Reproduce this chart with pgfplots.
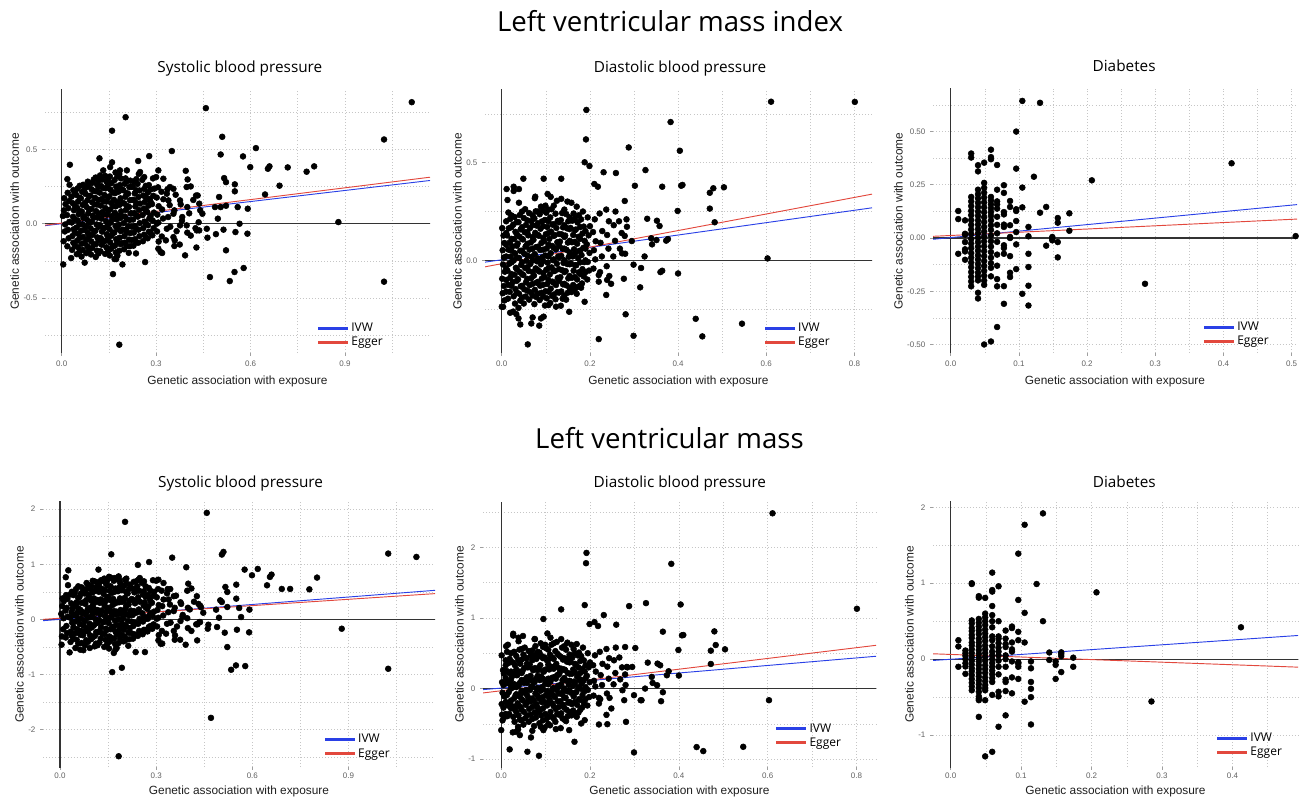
\documentclass[border=0pt]{standalone}
\usepackage{fontspec}
\setmainfont{Liberation Sans}
\newfontfamily\titlefont{Open Sans}
\usepackage{pgfplots}
\usepackage{pgfplotstable}
\pgfplotsset{compat=1.18}
\definecolor{ivwblue}{HTML}{2A40E6}
\definecolor{eggerred}{HTML}{E2483D}

\pgfplotsset{
  panel/.style={
    scale only axis,
    anchor=south west,
    clip=true,
    axis line style={draw=none},
    tick align=outside,
    xtick pos=left, ytick pos=left,
    major tick length=2.2pt,
    minor tick length=0pt,
    tick style={color=gray!75, line width=0.5pt},
    grid=both,
    major grid style={gray!45, line width=0.45pt, dash pattern=on 0.7pt off 1.6pt},
    minor grid style={gray!45, line width=0.45pt, dash pattern=on 0.7pt off 1.6pt},
    scaled ticks=false,
    /pgf/number format/assume math mode=true,
    tick label style={font=\fontsize{6}{7}\selectfont, text=black!62},
    xlabel={Genetic association with exposure},
    ylabel={Genetic association with outcome},
    ylabel shift=-3.5pt,
    label style={font=\fontsize{8.9}{10}\selectfont, text=black!88},
    title style={font=\titlefont\fontsize{11.5}{13}\selectfont, anchor=base},
    legend cell align=left,
    legend image code/.code={\draw[##1, line width=2.3pt] (0pt,0pt) -- (22.5pt,0pt);},
    legend style={draw=none, fill=none, inner sep=0pt, anchor=north west, row sep=0.2pt,
      nodes={inner sep=1.2pt, font=\titlefont\fontsize{9}{10}\selectfont}},
  },
  lowrow/.style={
    x tick label style={yshift=1.5pt},
    xlabel style={yshift=1pt},
  },
  dots/.style={only marks, mark=*, mark size=2.2pt, mark options={draw=none, fill=black}, forget plot},
  zero/.style={black!80, line width=0.8pt, forget plot},
  ivw/.style={ivwblue, line width=0.7pt},
  egger/.style={eggerred, line width=0.7pt},
  xone/.style={x tick label style={/pgf/number format/fixed, /pgf/number format/fixed zerofill, /pgf/number format/precision=1}},
  yone/.style={y tick label style={/pgf/number format/fixed, /pgf/number format/fixed zerofill, /pgf/number format/precision=1}},
  ytwo/.style={y tick label style={/pgf/number format/fixed, /pgf/number format/fixed zerofill, /pgf/number format/precision=2}},
}

% systolic blood pressure: x = exposure, a = LVMI, b = LVM
\pgfplotstableread{
x a b
0.006 -0.118 -0.31
0.010 -0.052 -0.18
0.004 0.052 0.10
0.012 0.132 0.33
0.008 0.172 0.38
0.011 -0.005 0.02
0.007 0.090 0.24
0.018 -0.152 -0.33
0.022 -0.098 -0.25
0.020 -0.041 -0.12
0.024 0.012 0.05
0.017 0.058 0.16
0.021 0.104 0.21
0.023 0.152 0.37
0.019 0.208 0.44
0.025 0.262 0.62
0.033 -0.176 -0.41
0.037 -0.128 -0.30
0.034 -0.083 -0.22
0.038 -0.037 -0.06
0.032 0.008 0.03
0.036 0.047 0.13
0.039 0.091 0.19
0.035 0.138 0.29
0.031 0.182 0.45
0.037 0.226 0.50
0.048 -0.205 -0.52
0.052 -0.158 -0.37
0.049 -0.115 -0.25
0.053 -0.068 -0.18
0.047 -0.026 -0.04
0.051 0.021 0.07
0.054 0.063 0.12
0.049 0.107 0.27
0.052 0.149 0.31
0.046 0.194 0.48
0.050 0.236 0.55
0.063 -0.221 -0.55
0.067 -0.176 -0.43
0.064 -0.134 -0.28
0.068 -0.089 -0.21
0.062 -0.047 -0.09
0.066 -0.004 0.01
0.069 0.039 0.11
0.064 0.082 0.17
0.067 0.127 0.30
0.061 0.171 0.41
0.065 0.214 0.47
0.068 0.262 0.58
0.078 -0.198 -0.47
0.082 -0.152 -0.38
0.079 -0.108 -0.22
0.083 -0.062 -0.16
0.077 -0.019 -0.03
0.081 0.026 0.08
0.084 0.068 0.14
0.079 0.113 0.28
0.082 0.158 0.35
0.076 0.201 0.47
0.080 0.247 0.54
0.083 0.283 0.66
0.093 -0.207 -0.52
0.097 -0.163 -0.36
0.094 -0.119 -0.29
0.098 -0.074 -0.15
0.092 -0.031 -0.08
0.096 0.013 0.04
0.099 0.055 0.15
0.094 0.099 0.21
0.097 0.144 0.34
0.091 0.189 0.42
0.095 0.232 0.55
0.098 0.276 0.61
0.102 0.298 0.70
0.108 -0.224 -0.49
0.112 -0.181 -0.44
0.109 -0.137 -0.30
0.113 -0.092 -0.23
0.107 -0.048 -0.10
0.111 -0.005 0.00
0.114 0.041 0.12
0.109 0.085 0.18
0.112 0.129 0.32
0.106 0.174 0.38
0.110 0.218 0.52
0.113 0.262 0.58
0.108 0.311 0.69
0.123 -0.185 -0.42
0.127 -0.141 -0.35
0.124 -0.097 -0.21
0.128 -0.053 -0.14
0.122 -0.009 -0.01
0.126 0.034 0.09
0.129 0.078 0.16
0.124 0.122 0.30
0.127 0.166 0.36
0.121 0.209 0.50
0.125 0.254 0.57
0.128 0.297 0.71
0.138 -0.203 -0.50
0.142 -0.159 -0.37
0.139 -0.115 -0.27
0.143 -0.071 -0.17
0.137 -0.027 -0.05
0.141 0.017 0.05
0.144 0.061 0.13
0.139 0.105 0.25
0.142 0.149 0.33
0.136 0.193 0.46
0.140 0.238 0.53
0.143 0.281 0.65
0.138 0.322 0.74
0.153 -0.214 -0.53
0.157 -0.169 -0.40
0.154 -0.125 -0.31
0.158 -0.081 -0.18
0.152 -0.037 -0.07
0.156 0.008 0.03
0.159 0.052 0.14
0.154 0.096 0.20
0.157 0.140 0.35
0.151 0.184 0.41
0.155 0.229 0.52
0.158 0.273 0.60
0.153 0.318 0.77
0.168 -0.238 -0.61
0.172 -0.193 -0.45
0.169 -0.148 -0.35
0.173 -0.104 -0.22
0.167 -0.060 -0.13
0.171 -0.016 -0.02
0.174 0.029 0.09
0.169 0.073 0.15
0.172 0.117 0.29
0.166 0.161 0.37
0.170 0.206 0.50
0.173 0.250 0.56
0.168 0.294 0.70
0.171 0.345 0.75
0.183 -0.182 -0.43
0.187 -0.138 -0.34
0.184 -0.094 -0.20
0.188 -0.050 -0.13
0.182 -0.006 0.00
0.186 0.038 0.10
0.189 0.083 0.17
0.184 0.127 0.31
0.187 0.171 0.38
0.181 0.216 0.51
0.185 0.260 0.58
0.188 0.305 0.66
0.183 0.335 0.78
0.198 -0.172 -0.40
0.202 -0.128 -0.31
0.199 -0.084 -0.19
0.203 -0.040 -0.11
0.197 0.004 0.02
0.201 0.048 0.12
0.204 0.092 0.19
0.199 0.136 0.33
0.202 0.181 0.39
0.196 0.225 0.53
0.200 0.269 0.61
0.203 0.305 0.72
0.213 -0.196 -0.48
0.217 -0.151 -0.36
0.214 -0.107 -0.24
0.218 -0.063 -0.16
0.212 -0.019 -0.03
0.216 0.025 0.07
0.219 0.069 0.13
0.214 0.113 0.27
0.217 0.158 0.34
0.211 0.202 0.47
0.215 0.246 0.55
0.218 0.290 0.63
0.228 -0.148 -0.35
0.232 -0.104 -0.27
0.229 -0.060 -0.12
0.233 -0.016 -0.06
0.227 0.028 0.08
0.231 0.072 0.15
0.234 0.116 0.29
0.229 0.160 0.35
0.232 0.204 0.49
0.226 0.248 0.56
0.230 0.283 0.68
0.243 -0.128 -0.30
0.247 -0.084 -0.21
0.244 -0.040 -0.08
0.248 0.004 0.01
0.242 0.048 0.13
0.246 0.092 0.18
0.249 0.136 0.32
0.244 0.180 0.40
0.247 0.224 0.52
0.241 0.268 0.60
0.245 0.335 0.72
0.258 -0.118 -0.27
0.262 -0.074 -0.19
0.259 -0.030 -0.04
0.263 0.014 0.05
0.257 0.058 0.11
0.261 0.102 0.25
0.264 0.146 0.31
0.259 0.190 0.45
0.262 0.234 0.51
0.256 0.295 0.66
0.273 -0.098 -0.22
0.277 -0.054 -0.14
0.274 -0.010 0.01
0.278 0.034 0.06
0.272 0.078 0.19
0.276 0.122 0.24
0.279 0.166 0.39
0.274 0.210 0.44
0.277 0.260 0.57
0.288 -0.078 -0.17
0.292 -0.030 -0.09
0.289 0.022 0.06
0.293 0.075 0.14
0.287 0.132 0.30
0.291 0.188 0.43
0.294 0.236 0.50
0.290 0.305 0.71
0.303 -0.052 -0.13
0.307 0.008 0.03
0.304 0.061 0.17
0.308 0.118 0.26
0.302 0.176 0.40
0.306 0.245 0.55
0.318 -0.086 -0.21
0.322 0.035 0.07
0.319 0.096 0.24
0.323 0.165 0.36
0.317 0.215 0.52
0.338 0.045 0.13
0.343 0.125 0.27
0.336 0.232 0.55
0.345 -0.020 -0.06
0.358 0.090 0.21
0.362 0.195 0.43
0.365 -0.050 -0.13
0.378 0.130 0.28
0.382 0.020 0.05
0.375 -0.140 -0.37
0.405 0.070 0.18
0.418 0.160 0.32
0.425 -0.030 -0.09
0.440 0.090 0.22
0.432 0.190 0.28
0.410 -0.080 -0.21
0.072 -0.130 -0.29
0.073 -0.040 -0.11
0.071 0.050 0.13
0.074 0.140 0.31
0.072 0.230 0.50
0.102 -0.140 -0.33
0.103 -0.050 -0.12
0.101 0.040 0.08
0.104 0.130 0.27
0.102 0.220 0.49
0.132 -0.120 -0.26
0.133 -0.030 -0.05
0.131 0.060 0.15
0.134 0.150 0.34
0.132 0.240 0.55
0.162 -0.150 -0.34
0.163 -0.060 -0.14
0.161 0.030 0.06
0.164 0.120 0.26
0.162 0.210 0.48
0.192 -0.130 -0.28
0.193 -0.040 -0.07
0.191 0.050 0.11
0.194 0.140 0.32
0.192 0.230 0.53
0.222 -0.110 -0.25
0.223 -0.020 -0.04
0.221 0.070 0.16
0.224 0.160 0.37
0.222 0.250 0.57
0.042 -0.150 -0.35
0.042 -0.060 -0.14
0.042 0.030 0.08
0.042 0.120 0.24
0.042 0.205 0.44
0.057 -0.185 -0.44
0.057 -0.095 -0.20
0.057 -0.005 0.00
0.057 0.085 0.20
0.057 0.175 0.39
0.057 0.255 0.60
0.087 -0.175 -0.41
0.087 -0.085 -0.22
0.087 0.005 0.03
0.087 0.095 0.19
0.087 0.185 0.45
0.087 0.265 0.63
0.117 -0.200 -0.47
0.117 -0.110 -0.24
0.117 -0.020 -0.06
0.117 0.070 0.17
0.117 0.160 0.35
0.117 0.245 0.59
0.117 0.290 0.67
0.147 -0.185 -0.45
0.147 -0.095 -0.19
0.147 -0.005 -0.02
0.147 0.085 0.21
0.147 0.175 0.40
0.147 0.260 0.62
0.147 0.300 0.70
0.177 -0.215 -0.52
0.177 -0.125 -0.27
0.177 -0.035 -0.10
0.177 0.055 0.14
0.177 0.145 0.31
0.177 0.230 0.54
0.177 0.320 0.73
0.207 -0.150 -0.37
0.207 -0.060 -0.13
0.207 0.030 0.09
0.207 0.120 0.25
0.207 0.205 0.49
0.207 0.285 0.65
0.237 -0.125 -0.29
0.237 -0.035 -0.07
0.237 0.055 0.12
0.237 0.140 0.33
0.237 0.225 0.51
0.237 0.300 0.69
0.267 -0.090 -0.20
0.267 0.000 0.01
0.267 0.090 0.22
0.267 0.180 0.41
0.267 0.255 0.60
0.282 -0.060 -0.12
0.282 0.050 0.11
0.282 0.150 0.34
0.282 0.230 0.52
0.400 0.298 0.648
0.410 0.251 0.56
0.397 0.247 0.52
0.427 0.190 0.42
0.437 0.135 0.25
0.447 0.067 0.12
0.437 -0.045 -0.05
0.429 -0.045 -0.09
0.397 -0.011 0.02
0.307 -0.168 -0.38
0.319 -0.197 -0.44
0.359 -0.112 -0.29
0.355 -0.090 -0.21
0.339 0.157 0.36
0.334 0.202 0.47
0.344 0.247 0.55
0.323 0.303 0.66
0.307 0.359 0.72
0.300 0.314 0.70
0.262 0.314 0.69
0.249 0.348 0.75
0.207 0.359 0.74
0.185 0.359 0.72
0.122 0.325 0.65
0.132 0.359 0.70
0.154 0.381 0.77
0.355 0.235 0.42
0.376 0.157 0.31
0.399 0.112 0.21
0.383 0.045 0.08
0.355 0.067 0.15
0.376 -0.011 -0.03
0.302 0.000 0.01
0.334 -0.034 -0.08
0.331 -0.112 -0.26
0.458 0.778 1.933
1.112 0.818 1.133
0.203 0.717 1.770
0.160 0.626 1.180
0.510 0.585 1.224
1.024 0.567 1.194
0.617 0.509 0.915
0.350 0.489 1.120
0.505 0.466 1.176
0.576 0.453 0.903
0.278 0.455 1.040
0.120 0.440 0.903
0.026 0.397 0.890
0.243 0.422 0.988
0.160 0.413 0.750
0.599 0.381 0.800
0.660 0.386 0.812
0.655 0.370 0.770
0.718 0.379 0.552
0.778 0.350 0.545
0.802 0.386 0.758
0.692 0.256 0.552
0.646 0.197 0.618
0.394 0.356 0.945
0.516 0.307 0.588
0.522 0.280 0.497
0.550 0.265 0.630
0.550 0.218 0.376
0.500 0.180 0.345
0.505 0.112 0.315
0.522 0.121 0.224
0.559 0.112 0.206
0.591 0.101 0.176
0.487 0.112 0.176
0.496 0.034 0.030
0.879 0.011 -0.170
0.565 0.000 0.042
0.461 -0.034 -0.170
0.514 -0.040 -0.242
0.552 -0.056 -0.188
0.590 -0.067 -0.236
0.463 -0.094 -0.097
0.490 -0.070 -0.139
0.522 -0.179 -0.503
0.392 -0.213 -0.460
0.265 -0.258 -0.594
0.471 -0.359 -1.788
0.578 -0.298 -0.848
0.549 -0.325 -0.836
0.534 -0.386 -0.915
1.024 -0.390 -0.897
0.163 -0.339 -0.958
0.193 -0.274 -0.879
0.173 -0.238 -0.550
0.073 -0.262 -0.560
0.030 -0.231 -0.600
0.005 -0.274 -0.460
0.183 -0.814 -2.485
0.236 -0.200 -0.594
0.428 -0.160 -0.382
0.358 -0.150 -0.370
0.314 -0.190 -0.442
0.308 -0.120 -0.285
0.399 -0.060 -0.158
0.435 0.010 -0.048
0.018 0.300 0.764
}\sbp

% diastolic blood pressure
\pgfplotstableread{
x a b
0.003 -0.238 -0.45
0.006 -0.205 -0.41
0.002 -0.168 -0.37
0.005 -0.131 -0.27
0.001 -0.094 -0.22
0.007 -0.058 -0.11
0.003 -0.021 -0.06
0.005 0.015 0.05
0.002 0.052 0.09
0.006 0.089 0.21
0.004 0.127 0.26
0.001 0.165 0.47
0.014 -0.196 -0.39
0.018 -0.161 -0.36
0.015 -0.125 -0.24
0.019 -0.089 -0.20
0.013 -0.053 -0.09
0.017 -0.017 -0.05
0.020 0.019 0.06
0.015 0.055 0.10
0.018 0.091 0.22
0.012 0.128 0.25
0.016 0.164 0.36
0.019 0.212 0.42
0.015 0.245 0.62
0.026 -0.262 -0.62
0.030 -0.221 -0.47
0.027 -0.184 -0.40
0.031 -0.147 -0.30
0.025 -0.111 -0.25
0.029 -0.074 -0.14
0.032 -0.038 -0.10
0.027 -0.001 0.02
0.030 0.036 0.06
0.024 0.072 0.17
0.028 0.109 0.21
0.031 0.146 0.33
0.026 0.183 0.37
0.029 0.222 0.52
0.027 0.355 0.75
0.038 -0.243 -0.58
0.042 -0.206 -0.44
0.039 -0.170 -0.38
0.043 -0.133 -0.26
0.037 -0.097 -0.21
0.041 -0.060 -0.11
0.044 -0.024 -0.07
0.039 0.013 0.04
0.042 0.049 0.08
0.036 0.086 0.19
0.040 0.122 0.24
0.043 0.159 0.35
0.038 0.196 0.40
0.041 0.232 0.55
0.039 0.295 0.67
0.050 -0.221 -0.51
0.054 -0.185 -0.42
0.051 -0.148 -0.33
0.055 -0.112 -0.23
0.049 -0.075 -0.17
0.053 -0.039 -0.06
0.056 -0.002 -0.02
0.051 0.034 0.08
0.054 0.071 0.13
0.048 0.107 0.25
0.052 0.144 0.29
0.055 0.181 0.43
0.050 0.217 0.48
0.053 0.262 0.58
0.062 -0.201 -0.47
0.066 -0.164 -0.37
0.063 -0.127 -0.29
0.067 -0.091 -0.18
0.061 -0.054 -0.13
0.065 -0.018 -0.02
0.068 0.019 0.03
0.063 0.055 0.13
0.066 0.092 0.18
0.060 0.128 0.30
0.064 0.165 0.34
0.067 0.201 0.47
0.062 0.242 0.53
0.074 -0.224 -0.53
0.078 -0.187 -0.41
0.075 -0.151 -0.34
0.079 -0.114 -0.22
0.073 -0.078 -0.17
0.077 -0.041 -0.07
0.080 -0.005 -0.01
0.075 0.032 0.09
0.078 0.068 0.14
0.072 0.105 0.26
0.076 0.141 0.29
0.079 0.178 0.42
0.074 0.214 0.47
0.077 0.251 0.60
0.075 0.318 0.70
0.086 -0.203 -0.49
0.090 -0.166 -0.38
0.087 -0.130 -0.31
0.091 -0.093 -0.19
0.085 -0.057 -0.14
0.089 -0.020 -0.03
0.092 0.016 0.02
0.087 0.053 0.12
0.090 0.089 0.17
0.084 0.126 0.29
0.088 0.162 0.33
0.091 0.199 0.46
0.086 0.236 0.51
0.089 0.275 0.64
0.098 -0.231 -0.55
0.102 -0.194 -0.43
0.099 -0.158 -0.36
0.103 -0.121 -0.24
0.097 -0.085 -0.19
0.101 -0.048 -0.09
0.104 -0.012 -0.04
0.099 0.025 0.07
0.102 0.061 0.11
0.096 0.098 0.24
0.100 0.134 0.27
0.103 0.171 0.40
0.098 0.207 0.44
0.101 0.244 0.57
0.099 0.280 0.62
0.104 0.340 0.78
0.110 -0.218 -0.52
0.114 -0.182 -0.40
0.111 -0.145 -0.33
0.115 -0.109 -0.21
0.109 -0.072 -0.16
0.113 -0.036 -0.05
0.116 0.001 0.00
0.111 0.037 0.10
0.114 0.074 0.15
0.108 0.110 0.27
0.112 0.147 0.31
0.115 0.183 0.44
0.110 0.220 0.48
0.113 0.262 0.62
0.111 0.325 0.72
0.122 -0.199 -0.47
0.126 -0.163 -0.36
0.123 -0.126 -0.29
0.127 -0.090 -0.18
0.121 -0.053 -0.12
0.125 -0.017 -0.02
0.128 0.020 0.04
0.123 0.056 0.14
0.126 0.093 0.19
0.120 0.129 0.31
0.124 0.166 0.35
0.127 0.202 0.49
0.122 0.239 0.53
0.125 0.305 0.66
0.134 -0.232 -0.56
0.138 -0.196 -0.42
0.135 -0.159 -0.35
0.139 -0.123 -0.23
0.133 -0.086 -0.18
0.137 -0.050 -0.08
0.140 -0.013 -0.03
0.135 0.023 0.06
0.138 0.060 0.12
0.132 0.096 0.23
0.136 0.133 0.28
0.139 0.169 0.41
0.134 0.206 0.45
0.137 0.242 0.58
0.135 0.315 0.70
0.146 -0.201 -0.46
0.150 -0.165 -0.39
0.147 -0.128 -0.30
0.151 -0.092 -0.20
0.145 -0.055 -0.13
0.149 -0.019 -0.04
0.152 0.018 0.05
0.147 0.054 0.11
0.150 0.091 0.22
0.144 0.127 0.26
0.148 0.164 0.38
0.151 0.200 0.43
0.146 0.237 0.55
0.149 0.301 0.65
0.158 -0.162 -0.38
0.162 -0.126 -0.31
0.159 -0.089 -0.22
0.163 -0.053 -0.11
0.157 -0.016 -0.06
0.161 0.020 0.04
0.164 0.057 0.10
0.159 0.093 0.21
0.162 0.130 0.27
0.156 0.166 0.39
0.160 0.203 0.44
0.163 0.240 0.56
0.158 0.295 0.62
0.170 -0.171 -0.40
0.174 -0.134 -0.34
0.171 -0.098 -0.23
0.175 -0.061 -0.15
0.169 -0.025 -0.05
0.173 0.012 0.02
0.176 0.048 0.12
0.171 0.085 0.17
0.174 0.121 0.30
0.168 0.158 0.34
0.172 0.194 0.47
0.175 0.231 0.51
0.170 0.275 0.63
0.182 -0.118 -0.27
0.186 -0.082 -0.20
0.183 -0.045 -0.09
0.187 -0.009 -0.04
0.181 0.027 0.07
0.185 0.064 0.11
0.188 0.100 0.24
0.183 0.137 0.28
0.186 0.173 0.40
0.180 0.210 0.46
0.184 0.250 0.58
0.194 -0.098 -0.24
0.198 -0.052 -0.12
0.195 -0.008 -0.02
0.199 0.038 0.09
0.193 0.082 0.18
0.197 0.128 0.30
0.200 0.175 0.37
0.195 0.220 0.50
0.208 -0.042 -0.10
0.212 0.005 0.03
0.209 0.052 0.11
0.213 0.098 0.24
0.207 0.145 0.33
0.211 0.210 0.47
0.223 -0.060 -0.15
0.227 0.020 0.05
0.224 0.090 0.19
0.228 0.150 0.35
0.222 0.240 0.52
0.238 -0.030 -0.07
0.242 0.060 0.14
0.239 0.130 0.31
0.243 0.200 0.43
0.237 0.260 0.56
0.253 0.020 0.06
0.257 0.100 0.22
0.254 0.180 0.40
0.258 0.250 0.58
0.268 0.060 0.13
0.272 0.140 0.30
0.266 0.200 0.44
0.010 -0.160 -0.36
0.010 -0.100 -0.19
0.010 -0.040 -0.10
0.010 0.020 0.07
0.010 0.080 0.15
0.010 0.140 0.33
0.010 0.200 0.40
0.034 -0.165 -0.33
0.034 -0.105 -0.25
0.034 -0.045 -0.08
0.034 0.015 0.02
0.034 0.075 0.19
0.034 0.135 0.27
0.034 0.195 0.46
0.058 -0.155 -0.38
0.058 -0.095 -0.20
0.058 -0.035 -0.09
0.058 0.025 0.08
0.058 0.085 0.16
0.058 0.145 0.35
0.058 0.205 0.43
0.082 -0.170 -0.34
0.082 -0.110 -0.27
0.082 -0.050 -0.10
0.082 0.010 0.01
0.082 0.070 0.18
0.082 0.130 0.26
0.082 0.190 0.45
0.082 0.250 0.52
0.106 -0.160 -0.40
0.106 -0.100 -0.21
0.106 -0.040 -0.11
0.106 0.020 0.06
0.106 0.080 0.14
0.106 0.140 0.34
0.106 0.200 0.41
0.106 0.260 0.55
0.130 -0.165 -0.37
0.130 -0.105 -0.26
0.130 -0.045 -0.07
0.130 0.015 0.03
0.130 0.075 0.20
0.130 0.135 0.29
0.130 0.195 0.47
0.154 -0.140 -0.33
0.154 -0.080 -0.19
0.154 -0.020 -0.03
0.154 0.040 0.11
0.154 0.100 0.21
0.154 0.160 0.37
0.154 0.220 0.48
0.178 -0.130 -0.30
0.178 -0.070 -0.16
0.178 -0.010 0.00
0.178 0.050 0.13
0.178 0.110 0.22
0.178 0.170 0.39
0.190 -0.060 -0.15
0.190 0.000 0.02
0.190 0.060 0.15
0.190 0.150 0.33
0.022 -0.130 -0.28
0.022 -0.070 -0.17
0.022 -0.010 0.00
0.022 0.050 0.12
0.022 0.110 0.24
0.022 0.170 0.38
0.022 0.230 0.50
0.046 -0.190 -0.45
0.046 -0.130 -0.30
0.046 -0.070 -0.15
0.046 -0.010 -0.03
0.046 0.050 0.12
0.046 0.110 0.22
0.046 0.170 0.41
0.046 0.250 0.56
0.070 -0.180 -0.43
0.070 -0.120 -0.26
0.070 -0.060 -0.14
0.070 0.000 0.02
0.070 0.060 0.11
0.070 0.120 0.28
0.070 0.180 0.40
0.070 0.230 0.54
0.094 -0.185 -0.45
0.094 -0.125 -0.28
0.094 -0.065 -0.12
0.094 -0.005 -0.01
0.094 0.055 0.14
0.094 0.115 0.25
0.094 0.175 0.43
0.094 0.255 0.59
0.118 -0.175 -0.42
0.118 -0.115 -0.25
0.118 -0.055 -0.10
0.118 0.005 0.01
0.118 0.065 0.16
0.118 0.125 0.28
0.118 0.185 0.42
0.118 0.280 0.64
0.142 -0.180 -0.44
0.142 -0.120 -0.27
0.142 -0.060 -0.13
0.142 0.000 0.00
0.142 0.060 0.15
0.142 0.120 0.27
0.142 0.180 0.43
0.142 0.260 0.60
0.166 -0.145 -0.35
0.166 -0.085 -0.19
0.166 -0.025 -0.06
0.166 0.035 0.08
0.166 0.095 0.23
0.166 0.155 0.35
0.166 0.215 0.50
0.611 0.812 2.480
0.801 0.811 1.129
0.192 0.770 1.920
0.383 0.708 1.765
0.191 0.619 1.774
0.404 0.561 1.190
0.288 0.578 1.167
0.188 0.502 1.181
0.199 0.483 0.913
0.326 0.462 1.209
0.231 0.451 1.040
0.259 0.447 0.904
0.049 0.418 0.744
0.095 0.418 0.984
0.135 0.418 1.120
0.210 0.391 0.941
0.218 0.377 0.885
0.302 0.382 0.574
0.364 0.377 0.805
0.407 0.382 0.753
0.410 0.386 0.758
0.480 0.369 0.809
0.472 0.346 0.536
0.504 0.374 0.555
0.472 0.265 0.348
0.399 0.253 0.546
0.483 0.195 0.616
0.330 0.213 0.367
0.352 0.203 0.353
0.358 0.176 0.329
0.279 0.304 0.588
0.283 0.210 0.306
0.284 0.172 0.300
0.339 0.113 0.165
0.341 0.082 0.080
0.351 0.104 0.047
0.373 0.101 0.188
0.377 0.109 0.245
0.295 0.099 0.306
0.279 0.125 0.200
0.324 0.020 0.000
0.273 0.036 -0.024
0.280 0.034 0.050
0.603 0.010 -0.165
0.299 -0.022 -0.094
0.316 -0.039 -0.165
0.360 -0.060 -0.179
0.364 -0.053 -0.052
0.400 -0.067 0.184
0.314 -0.138 -0.165
0.277 -0.094 -0.165
0.237 -0.177 -0.372
0.281 -0.276 -0.471
0.220 -0.075 -0.212
0.220 -0.109 -0.132
0.220 -0.403 -0.508
0.188 -0.212 -0.447
0.440 -0.299 -0.828
0.545 -0.324 -0.824
0.299 -0.386 -0.904
0.455 -0.389 -0.885
0.059 -0.430 -0.894
0.042 -0.328 -0.659
0.067 -0.323 -0.692
0.070 -0.292 -0.598
0.085 -0.334 -0.951
0.089 -0.297 -0.541
0.095 -0.288 -0.588
0.153 -0.263 -0.588
0.106 -0.229 -0.500
0.123 -0.237 -0.574
0.019 -0.268 -0.861
0.033 -0.275 -0.612
0.038 -0.297 -0.540
0.000 -0.237 -0.588
0.011 0.365 0.600
0.013 0.309 0.520
0.027 0.377 0.776
0.076 0.326 0.700
0.039 0.365 0.720
0.165 -0.150 -0.753
0.180 -0.140 -0.494
0.244 -0.080 -0.132
0.248 -0.120 -0.282
0.239 -0.100 -0.504
}\dbp

% diabetes
\pgfplotstableread{
x a b
0.011 0.127 0.25
0.011 0.089 0.167
0.011 -0.074 -0.10
0.021 0.083 0.114
0.021 0.020 0.079
0.021 0.016 0.044
0.021 -0.019 0.000
0.021 -0.053 -0.053
0.021 -0.063 -0.096
0.021 -0.102 -0.193
0.030 0.397 1.00
0.030 0.378 0.99
0.030 0.193 0.51
0.030 0.172 0.47
0.030 0.150 0.41
0.030 0.128 0.37
0.030 0.107 0.32
0.030 0.084 0.28
0.030 0.062 0.22
0.030 0.040 0.18
0.030 0.019 0.13
0.030 -0.004 0.08
0.030 -0.026 0.03
0.030 -0.048 -0.02
0.030 -0.071 -0.07
0.030 -0.092 -0.12
0.030 -0.115 -0.16
0.030 -0.137 -0.21
0.030 -0.160 -0.26
0.030 -0.182 -0.31
0.030 -0.204 -0.36
0.030 -0.227 -0.41
0.040 0.342 0.83
0.040 0.313 0.81
0.040 0.227 0.53
0.040 0.206 0.48
0.040 0.186 0.43
0.040 0.165 0.38
0.040 0.145 0.33
0.040 0.124 0.27
0.040 0.104 0.22
0.040 0.083 0.17
0.040 0.063 0.12
0.040 0.042 0.07
0.040 0.022 0.02
0.040 0.001 -0.03
0.040 -0.019 -0.08
0.040 -0.040 -0.13
0.040 -0.060 -0.18
0.040 -0.081 -0.23
0.040 -0.101 -0.28
0.040 -0.122 -0.33
0.040 -0.142 -0.38
0.040 -0.163 -0.43
0.040 -0.181 -0.49
0.040 -0.199 -0.54
0.040 -0.257 -0.76
0.040 -0.284 -0.52
0.049 0.354 0.807
0.049 0.259 0.60
0.049 0.236 0.55
0.049 0.213 0.50
0.049 0.190 0.45
0.049 0.167 0.39
0.049 0.144 0.34
0.049 0.121 0.29
0.049 0.098 0.24
0.049 0.075 0.18
0.049 0.052 0.13
0.049 0.030 0.08
0.049 0.007 0.03
0.049 -0.016 -0.02
0.049 -0.039 -0.08
0.049 -0.062 -0.13
0.049 -0.085 -0.18
0.049 -0.108 -0.24
0.049 -0.131 -0.29
0.049 -0.154 -0.34
0.049 -0.177 -0.38
0.049 -0.200 -0.41
0.049 -0.220 -0.54
0.049 -0.500 -1.28
0.059 0.415 1.14
0.059 0.380 0.91
0.059 0.370 0.89
0.059 0.193 0.70
0.059 0.176 0.58
0.059 0.158 0.50
0.059 0.140 0.42
0.059 0.122 0.30
0.059 0.104 0.25
0.059 0.083 0.17
0.059 0.060 0.10
0.059 0.038 0.05
0.059 0.012 0.00
0.059 -0.015 -0.05
0.059 -0.040 -0.10
0.059 -0.066 -0.15
0.059 -0.092 -0.20
0.059 -0.118 -0.25
0.059 -0.140 -0.30
0.059 -0.180 -0.47
0.059 -0.486 -1.22
0.068 0.343 0.96
0.068 0.227 0.50
0.068 0.172 0.30
0.068 0.158 0.27
0.068 0.138 0.21
0.068 0.100 0.15
0.068 0.062 0.10
0.068 0.022 0.05
0.068 -0.018 -0.02
0.068 -0.078 -0.10
0.068 -0.130 -0.20
0.068 -0.193 -0.43
0.068 -0.227 -0.49
0.068 -0.418 -0.89
0.078 0.248 0.377
0.078 0.212 0.27
0.078 0.122 0.20
0.078 0.111 0.16
0.078 0.063 0.05
0.078 0.052 0.00
0.078 -0.034 -0.10
0.078 -0.047 -0.27
0.078 -0.074 -0.30
0.078 -0.226 -0.42
0.078 -0.309 -0.74
0.087 0.174 0.43
0.087 0.146 0.41
0.087 0.060 0.22
0.087 0.005 0.13
0.087 0.000 0.10
0.087 -0.085 -0.03
0.087 -0.163 -0.24
0.087 -0.183 -0.45
0.096 0.500 1.39
0.096 0.326 0.78
0.096 0.135 0.36
0.096 0.127 0.25
0.096 0.080 -0.04
0.096 0.028 -0.06
0.096 -0.030 -0.10
0.096 -0.146 -0.26
0.105 0.644 1.77
0.105 0.237 0.61
0.105 0.144 0.22
0.105 -0.262 -0.56
0.114 0.052 -0.03
0.114 0.008 -0.12
0.114 -0.074 -0.30
0.114 -0.136 -0.39
0.114 -0.224 -0.50
0.114 -0.317 -0.86
0.122 0.288 0.99
0.131 0.635 1.92
0.131 0.119 0.50
0.140 0.146 0.088
0.140 -0.036 -0.01
0.149 0.005 -0.075
0.149 -0.003 -0.26
0.149 -0.011 -0.03
0.157 0.094 0.09
0.157 0.072 0.07
0.157 -0.019 0.04
0.157 -0.091 -0.17
0.174 0.116 0.02
0.174 0.034 -0.10
0.207 0.271 0.88
0.285 -0.215 -0.557
0.412 0.351 0.42
0.506 0.009 0.05
}\dm

\begin{document}
\begin{tikzpicture}
\useasboundingbox (0pt,0pt) rectangle (976.5pt,-599.25pt);

\node[anchor=base, font=\titlefont\fontsize{20.7}{24}\selectfont] at (502.5pt,-23.8pt) {Left ventricular mass index};
\node[anchor=base, font=\titlefont\fontsize{20.7}{24}\selectfont] at (502.1pt,-336.2pt) {Left ventricular mass};

% ---- top row: LVMI ----
\begin{axis}[panel, xone, yone,
  at={(33.75pt,-264.75pt)}, width=288.75pt, height=197.25pt,
  xmin=-0.053, xmax=1.17, ymin=-0.87, ymax=0.90,
  xtick={0,0.3,0.6,0.9}, minor xtick={0.15,0.45,0.75,1.05},
  ytick={-0.5,0,0.5}, minor ytick={-0.75,-0.25,0.25,0.75},
  title={Systolic blood pressure}, title style={at={(0.506,1)}, yshift=7pt},
  legend style={at={(0.705,0.120)}}]
\addplot[zero] coordinates {(-2,0) (2,0)};
\addplot[zero] coordinates {(0,-5) (0,5)};
\addplot[dots] table[x=x, y=a] {\sbp};
\addplot[ivw] coordinates {(-0.053,-0.013) (1.17,0.291)};
\addlegendentry{IVW}
\addplot[egger] coordinates {(-0.053,-0.010) (1.17,0.313)};
\addlegendentry{Egger}
\end{axis}

\begin{axis}[panel, xone, yone,
  at={(363.75pt,-264.75pt)}, width=290.25pt, height=197.25pt,
  xmin=-0.038, xmax=0.84, ymin=-0.474, ymax=0.872,
  xtick={0,0.2,0.4,0.6,0.8}, minor xtick={0.1,0.3,0.5,0.7},
  ytick={0,0.5}, minor ytick={-0.25,0.25,0.75},
  title={Diastolic blood pressure}, title style={at={(0.504,1)}, yshift=7pt},
  legend style={at={(0.719,0.122)}}]
\addplot[zero] coordinates {(-2,0) (2,0)};
\addplot[zero] coordinates {(0,-5) (0,5)};
\addplot[dots] table[x=x, y=a] {\dbp};
\addplot[ivw] coordinates {(-0.038,-0.009) (0.84,0.269)};
\addlegendentry{IVW}
\addplot[egger] coordinates {(-0.038,-0.033) (0.84,0.339)};
\addlegendentry{Egger}
\end{axis}

\begin{axis}[panel, xone, ytwo,
  at={(699.75pt,-264.75pt)}, width=273pt, height=198pt,
  xmin=-0.026, xmax=0.508, ymin=-0.54, ymax=0.70,
  xtick={0,0.1,0.2,0.3,0.4,0.5}, minor xtick={0.05,0.15,0.25,0.35,0.45},
  ytick={-0.5,-0.25,0,0.25,0.5}, minor ytick={-0.375,-0.125,0.125,0.375,0.625},
  title={Diabetes}, title style={at={(0.525,1)}, yshift=7pt},
  legend style={at={(0.740,0.125)}}]
\addplot[zero] coordinates {(-2,0) (2,0)};
\addplot[zero] coordinates {(0,-5) (0,5)};
\addplot[dots] table[x=x, y=a] {\dm};
\addplot[ivw] coordinates {(-0.026,-0.006) (0.508,0.157)};
\addlegendentry{IVW}
\addplot[egger] coordinates {(-0.026,0.008) (0.508,0.089)};
\addlegendentry{Egger}
\end{axis}

% ---- bottom row: LVM ----
\begin{axis}[panel, lowrow, xone,
  at={(32.25pt,-575.25pt)}, width=294pt, height=198.75pt,
  xmin=-0.053, xmax=1.17, ymin=-2.68, ymax=2.13,
  xtick={0,0.3,0.6,0.9}, minor xtick={0.15,0.45,0.75,1.05},
  ytick={-2,-1,0,1,2}, minor ytick={-2.5,-1.5,-0.5,0.5,1.5},
  title={Systolic blood pressure}, title style={at={(0.504,1)}, yshift=5pt},
  legend style={at={(0.715,0.130)}}]
\addplot[zero] coordinates {(-2,0) (2,0)};
\addplot[zero] coordinates {(0,-5) (0,5)};
\addplot[dots] table[x=x, y=b] {\sbp};
\addplot[ivw] coordinates {(-0.053,-0.024) (1.17,0.527)};
\addlegendentry{IVW}
\addplot[egger] coordinates {(-0.053,0.0) (1.17,0.467)};
\addlegendentry{Egger}
\end{axis}

\begin{axis}[panel, lowrow, xone,
  at={(362.25pt,-575.25pt)}, width=294.75pt, height=198.75pt,
  xmin=-0.041, xmax=0.844, ymin=-1.11, ymax=2.64,
  xtick={0,0.2,0.4,0.6,0.8}, minor xtick={0.1,0.3,0.5,0.7},
  ytick={-1,0,1,2}, minor ytick={-0.5,0.5,1.5,2.5},
  title={Diastolic blood pressure}, title style={at={(0.501,1)}, yshift=5pt},
  legend style={at={(0.742,0.171)}}]
\addplot[zero] coordinates {(-2,0) (2,0)};
\addplot[zero] coordinates {(0,-5) (0,5)};
\addplot[dots] table[x=x, y=b] {\dbp};
\addplot[ivw] coordinates {(-0.041,-0.015) (0.844,0.457)};
\addlegendentry{IVW}
\addplot[egger] coordinates {(-0.041,-0.062) (0.844,0.612)};
\addlegendentry{Egger}
\end{axis}

\begin{axis}[panel, lowrow, xone,
  at={(699.75pt,-575.25pt)}, width=273.75pt, height=198.75pt,
  xmin=-0.025, xmax=0.493, ymin=-1.42, ymax=2.07,
  xtick={0,0.1,0.2,0.3,0.4}, minor xtick={0.05,0.15,0.25,0.35,0.45},
  ytick={-1,0,1,2}, minor ytick={-0.5,0.5,1.5},
  title={Diabetes}, title style={at={(0.524,1)}, yshift=5pt},
  legend style={at={(0.774,0.136)}}]
\addplot[zero] coordinates {(-2,0) (2,0)};
\addplot[zero] coordinates {(0,-5) (0,5)};
\addplot[dots] table[x=x, y=b] {\dm};
\addplot[ivw] coordinates {(-0.025,-0.017) (0.493,0.312)};
\addlegendentry{IVW}
\addplot[egger] coordinates {(-0.025,0.071) (0.493,-0.105)};
\addlegendentry{Egger}
\end{axis}
\end{tikzpicture}
\end{document}
